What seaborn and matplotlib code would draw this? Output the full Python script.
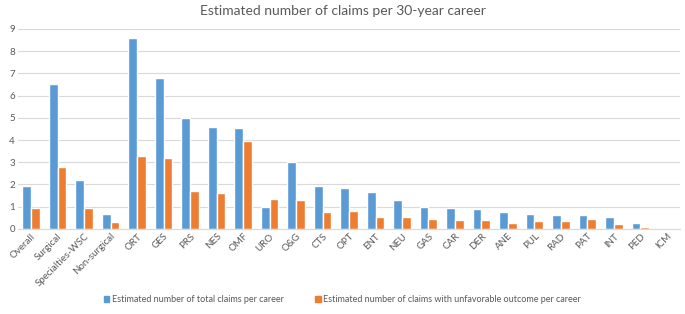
import pandas as pd
import numpy as np
import matplotlib.pyplot as plt
import seaborn as sns
from matplotlib.patches import Patch

sns.set_style("white")
plt.rcParams['font.family'] = ['Lato', 'DejaVu Sans']

categories = ['Overall', 'Surgical', 'Specialties-WSC', 'Non-surgical', 'ORT', 'GES', 'PRS',
              'NES', 'OMF', 'URO', 'O&G', 'CTS', 'OPT', 'ENT', 'NEU', 'GAS', 'CAR', 'DER',
              'ANE', 'PUL', 'RAD', 'PAT', 'INT', 'PED', 'ICM']
total_claims = [1.95, 6.5, 2.2, 0.65, 8.6, 6.8, 5.0, 4.6, 4.55, 1.0, 3.0, 1.95, 1.85, 1.68,
                1.32, 0.98, 0.93, 0.9, 0.77, 0.67, 0.63, 0.63, 0.52, 0.25, 0.0]
unfavorable_claims = [0.95, 2.78, 0.95, 0.3, 3.3, 3.2, 1.72, 1.62, 3.95, 1.33, 1.3, 0.75, 0.82,
                      0.52, 0.52, 0.45, 0.42, 0.42, 0.27, 0.35, 0.35, 0.45, 0.22, 0.07, 0.0]

s1 = 'Estimated number of total claims per career'
s2 = 'Estimated number of claims with unfavorable outcome per career'

df = pd.DataFrame({'category': categories * 2,
                   'value': total_claims + unfavorable_claims,
                   'series': [s1] * len(categories) + [s2] * len(categories)})

colors = {s1: '#5B9BD5', s2: '#ED7D31'}
text_color = '#595959'

fig = plt.figure(figsize=(6.85, 3.14), dpi=100)
ax = fig.add_axes([0.026, 0.271, 0.967, 0.637])

sns.barplot(data=df, x='category', y='value', hue='series', palette=colors,
            width=0.66, gap=0, saturation=1, ax=ax, legend=False)

ax.set_ylim(0, 9)
ax.set_xlim(-0.5, len(categories) - 0.5)
ax.set_yticks(range(0, 10))
ax.yaxis.grid(True, color='#D9D9D9', linewidth=0.8)
ax.set_axisbelow(True)
for side in ['top', 'right', 'left']:
    ax.spines[side].set_visible(False)
ax.spines['bottom'].set_color('#D9D9D9')
ax.tick_params(axis='both', length=0, labelsize=7, colors=text_color, pad=2)
ax.set_xticks(range(len(categories)))
ax.set_xticklabels(categories, rotation=45, ha='right', rotation_mode='anchor')
ax.set_xlabel('')
ax.set_ylabel('')

fig.suptitle('Estimated number of claims per 30-year career', x=0.5, y=0.985,
             fontsize=10, color=text_color)

handles = [Patch(color=colors[s1], label=s1), Patch(color=colors[s2], label=s2)]
fig.legend(handles=handles, loc='center', bbox_to_anchor=(0.5, 0.045), ncol=2,
           frameon=False, fontsize=6.5, handlelength=0.6, handleheight=0.6,
           handletextpad=0.3, columnspacing=3.5, labelcolor=text_color)

plt.savefig('out.png', dpi=100)
plt.close()
